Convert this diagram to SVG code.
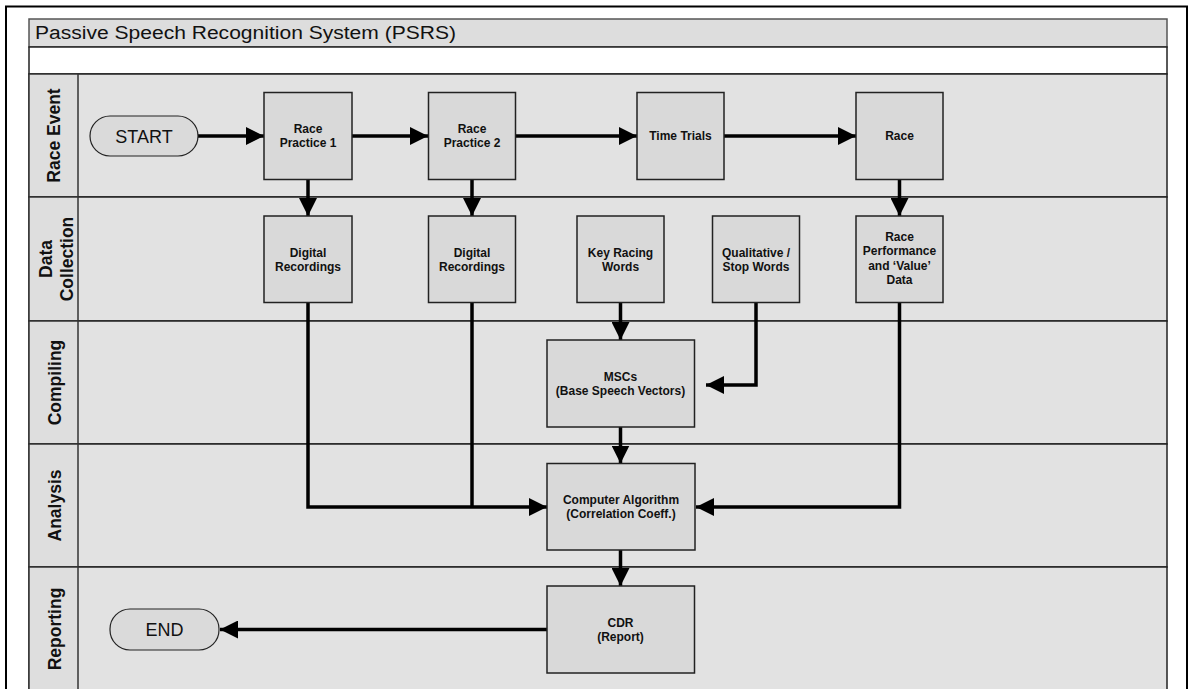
<svg xmlns="http://www.w3.org/2000/svg" width="1193" height="689" viewBox="0 0 1193 689">
<style>
.frame{fill:#fff;stroke:#000;stroke-width:2}
.band{fill:#dddddd;stroke:#555;stroke-width:1.5}
.white{fill:#fff;stroke:#222;stroke-width:1.5}
.lane{fill:#e2e2e2;stroke:#222;stroke-width:1.5}
.hdr{fill:#dedede;stroke:#333;stroke-width:1.5}
.node{fill:#d9d9d9;stroke:#222;stroke-width:1.5}
.term{fill:#dadada;stroke:#222;stroke-width:1.2}
.t{font-family:"Liberation Sans",Arial,sans-serif;font-weight:bold;font-size:12px;fill:#111;text-anchor:middle}
.lt{font-family:"Liberation Sans",Arial,sans-serif;font-weight:bold;font-size:17.5px;fill:#111;text-anchor:middle}
.tt{font-family:"Liberation Sans",Arial,sans-serif;font-size:18px;fill:#111;text-anchor:middle}
.title{font-family:"Liberation Sans",Arial,sans-serif;font-size:18px;fill:#111}
.c{fill:none;stroke:#000;stroke-width:3.5;stroke-linejoin:miter}
</style>
<defs>
<marker id="arr" markerUnits="userSpaceOnUse" markerWidth="18" markerHeight="18" refX="18" refY="9" orient="auto">
<path d="M0,0 L18,9 L0,18 z" fill="#000"/>
</marker>
</defs>
<rect class="frame" x="6" y="6.5" width="1181" height="720"/>
<g id="pool">
<rect class="band" x="29" y="19" width="1138" height="28"/>
<text class="title" x="35" y="39" textLength="421" lengthAdjust="spacingAndGlyphs">Passive Speech Recognition System (PSRS)</text>
<rect class="white" x="29" y="47" width="1138" height="27"/>
</g>
<g id="lane-race-event">
<rect class="lane" x="29" y="74" width="1138" height="123"/>
<rect class="hdr" x="29" y="74" width="49" height="123"/>
<text class="lt" transform="translate(60,135.5) rotate(-90)">Race Event</text>
</g>
<g id="lane-data-collection">
<rect class="lane" x="29" y="197" width="1138" height="124"/>
<rect class="hdr" x="29" y="197" width="49" height="124"/>
<text class="lt" transform="translate(51.5,259) rotate(-90)">Data</text>
<text class="lt" transform="translate(72.5,259) rotate(-90)">Collection</text>
</g>
<g id="lane-compiling">
<rect class="lane" x="29" y="321" width="1138" height="123"/>
<rect class="hdr" x="29" y="321" width="49" height="123"/>
<text class="lt" transform="translate(60.5,382.5) rotate(-90)">Compiling</text>
</g>
<g id="lane-analysis">
<rect class="lane" x="29" y="444" width="1138" height="123"/>
<rect class="hdr" x="29" y="444" width="49" height="123"/>
<text class="lt" transform="translate(60.5,505.5) rotate(-90)">Analysis</text>
</g>
<g id="lane-reporting">
<rect class="lane" x="29" y="567" width="1138" height="124"/>
<rect class="hdr" x="29" y="567" width="49" height="124"/>
<text class="lt" transform="translate(60.5,629) rotate(-90)">Reporting</text>
</g>
<g id="connectors">
<path class="c" d="M198,136 H264" marker-end="url(#arr)"/>
<path class="c" d="M352,136 H428" marker-end="url(#arr)"/>
<path class="c" d="M516,136 H637" marker-end="url(#arr)"/>
<path class="c" d="M724,136 H856" marker-end="url(#arr)"/>
<path class="c" d="M308,179 V216" marker-end="url(#arr)"/>
<path class="c" d="M472,179 V216" marker-end="url(#arr)"/>
<path class="c" d="M899.5,179 V216" marker-end="url(#arr)"/>
<path class="c" d="M620.5,302 V340" marker-end="url(#arr)"/>
<path class="c" d="M756,302 V385 H706" marker-end="url(#arr)"/>
<path class="c" d="M620.5,427 V463.5" marker-end="url(#arr)"/>
<path class="c" d="M620.5,550 V586" marker-end="url(#arr)"/>
<path class="c" d="M308,302 V507 H547" marker-end="url(#arr)"/>
<path class="c" d="M472,302 V507"/>
<path class="c" d="M899.5,302 V507 H696" marker-end="url(#arr)"/>
<path class="c" d="M547,629.5 H220" marker-end="url(#arr)"/>
</g>
<g id="start">
<rect class="term" x="90" y="116" width="108" height="40" rx="20" ry="20"/>
<text class="tt" x="144" y="142.5">START</text>
</g>
<g id="end">
<rect class="term" x="110" y="609" width="109" height="41" rx="20" ry="20"/>
<text class="tt" x="164.5" y="636">END</text>
</g>
<g id="race-practice-1">
<rect class="node" x="264" y="92.5" width="88" height="87"/>
<text class="t" x="308" y="133.3">Race</text>
<text class="t" x="308" y="147.3">Practice 1</text>
</g>
<g id="race-practice-2">
<rect class="node" x="428.5" y="92.5" width="87" height="87"/>
<text class="t" x="472" y="133.3">Race</text>
<text class="t" x="472" y="147.3">Practice 2</text>
</g>
<g id="time-trials">
<rect class="node" x="637" y="92.5" width="87" height="87"/>
<text class="t" x="680.5" y="140.3">Time Trials</text>
</g>
<g id="race">
<rect class="node" x="856" y="92.5" width="87" height="87"/>
<text class="t" x="899.5" y="140.3">Race</text>
</g>
<g id="digital-recordings-1">
<rect class="node" x="264" y="216" width="88" height="86.5"/>
<text class="t" x="308" y="256.5">Digital</text>
<text class="t" x="308" y="270.5">Recordings</text>
</g>
<g id="digital-recordings-2">
<rect class="node" x="428.5" y="216" width="87" height="86.5"/>
<text class="t" x="472" y="256.5">Digital</text>
<text class="t" x="472" y="270.5">Recordings</text>
</g>
<g id="key-racing-words">
<rect class="node" x="577" y="216" width="87" height="86.5"/>
<text class="t" x="620.5" y="256.5">Key Racing</text>
<text class="t" x="620.5" y="270.5">Words</text>
</g>
<g id="qualitative-stop-words">
<rect class="node" x="712.5" y="216" width="87" height="86.5"/>
<text class="t" x="756" y="256.5">Qualitative /</text>
<text class="t" x="756" y="270.5">Stop Words</text>
</g>
<g id="race-performance">
<rect class="node" x="856" y="216" width="87" height="86.5"/>
<text class="t" x="899.5" y="240.5">Race</text>
<text class="t" x="899.5" y="255">Performance</text>
<text class="t" x="899.5" y="269.5">and ‘Value’</text>
<text class="t" x="899.5" y="284">Data</text>
</g>
<g id="mscs">
<rect class="node" x="547" y="340" width="147.5" height="87"/>
<text class="t" x="620.5" y="380.5">MSCs</text>
<text class="t" x="620.5" y="394.5">(Base Speech Vectors)</text>
</g>
<g id="computer-algorithm">
<rect class="node" x="547" y="463.5" width="148" height="86.5"/>
<text class="t" x="621" y="504">Computer Algorithm</text>
<text class="t" x="621" y="518">(Correlation Coeff.)</text>
</g>
<g id="cdr">
<rect class="node" x="547" y="586" width="147.5" height="87"/>
<text class="t" x="620.5" y="626.5">CDR</text>
<text class="t" x="620.5" y="640.5">(Report)</text>
</g>
</svg>
